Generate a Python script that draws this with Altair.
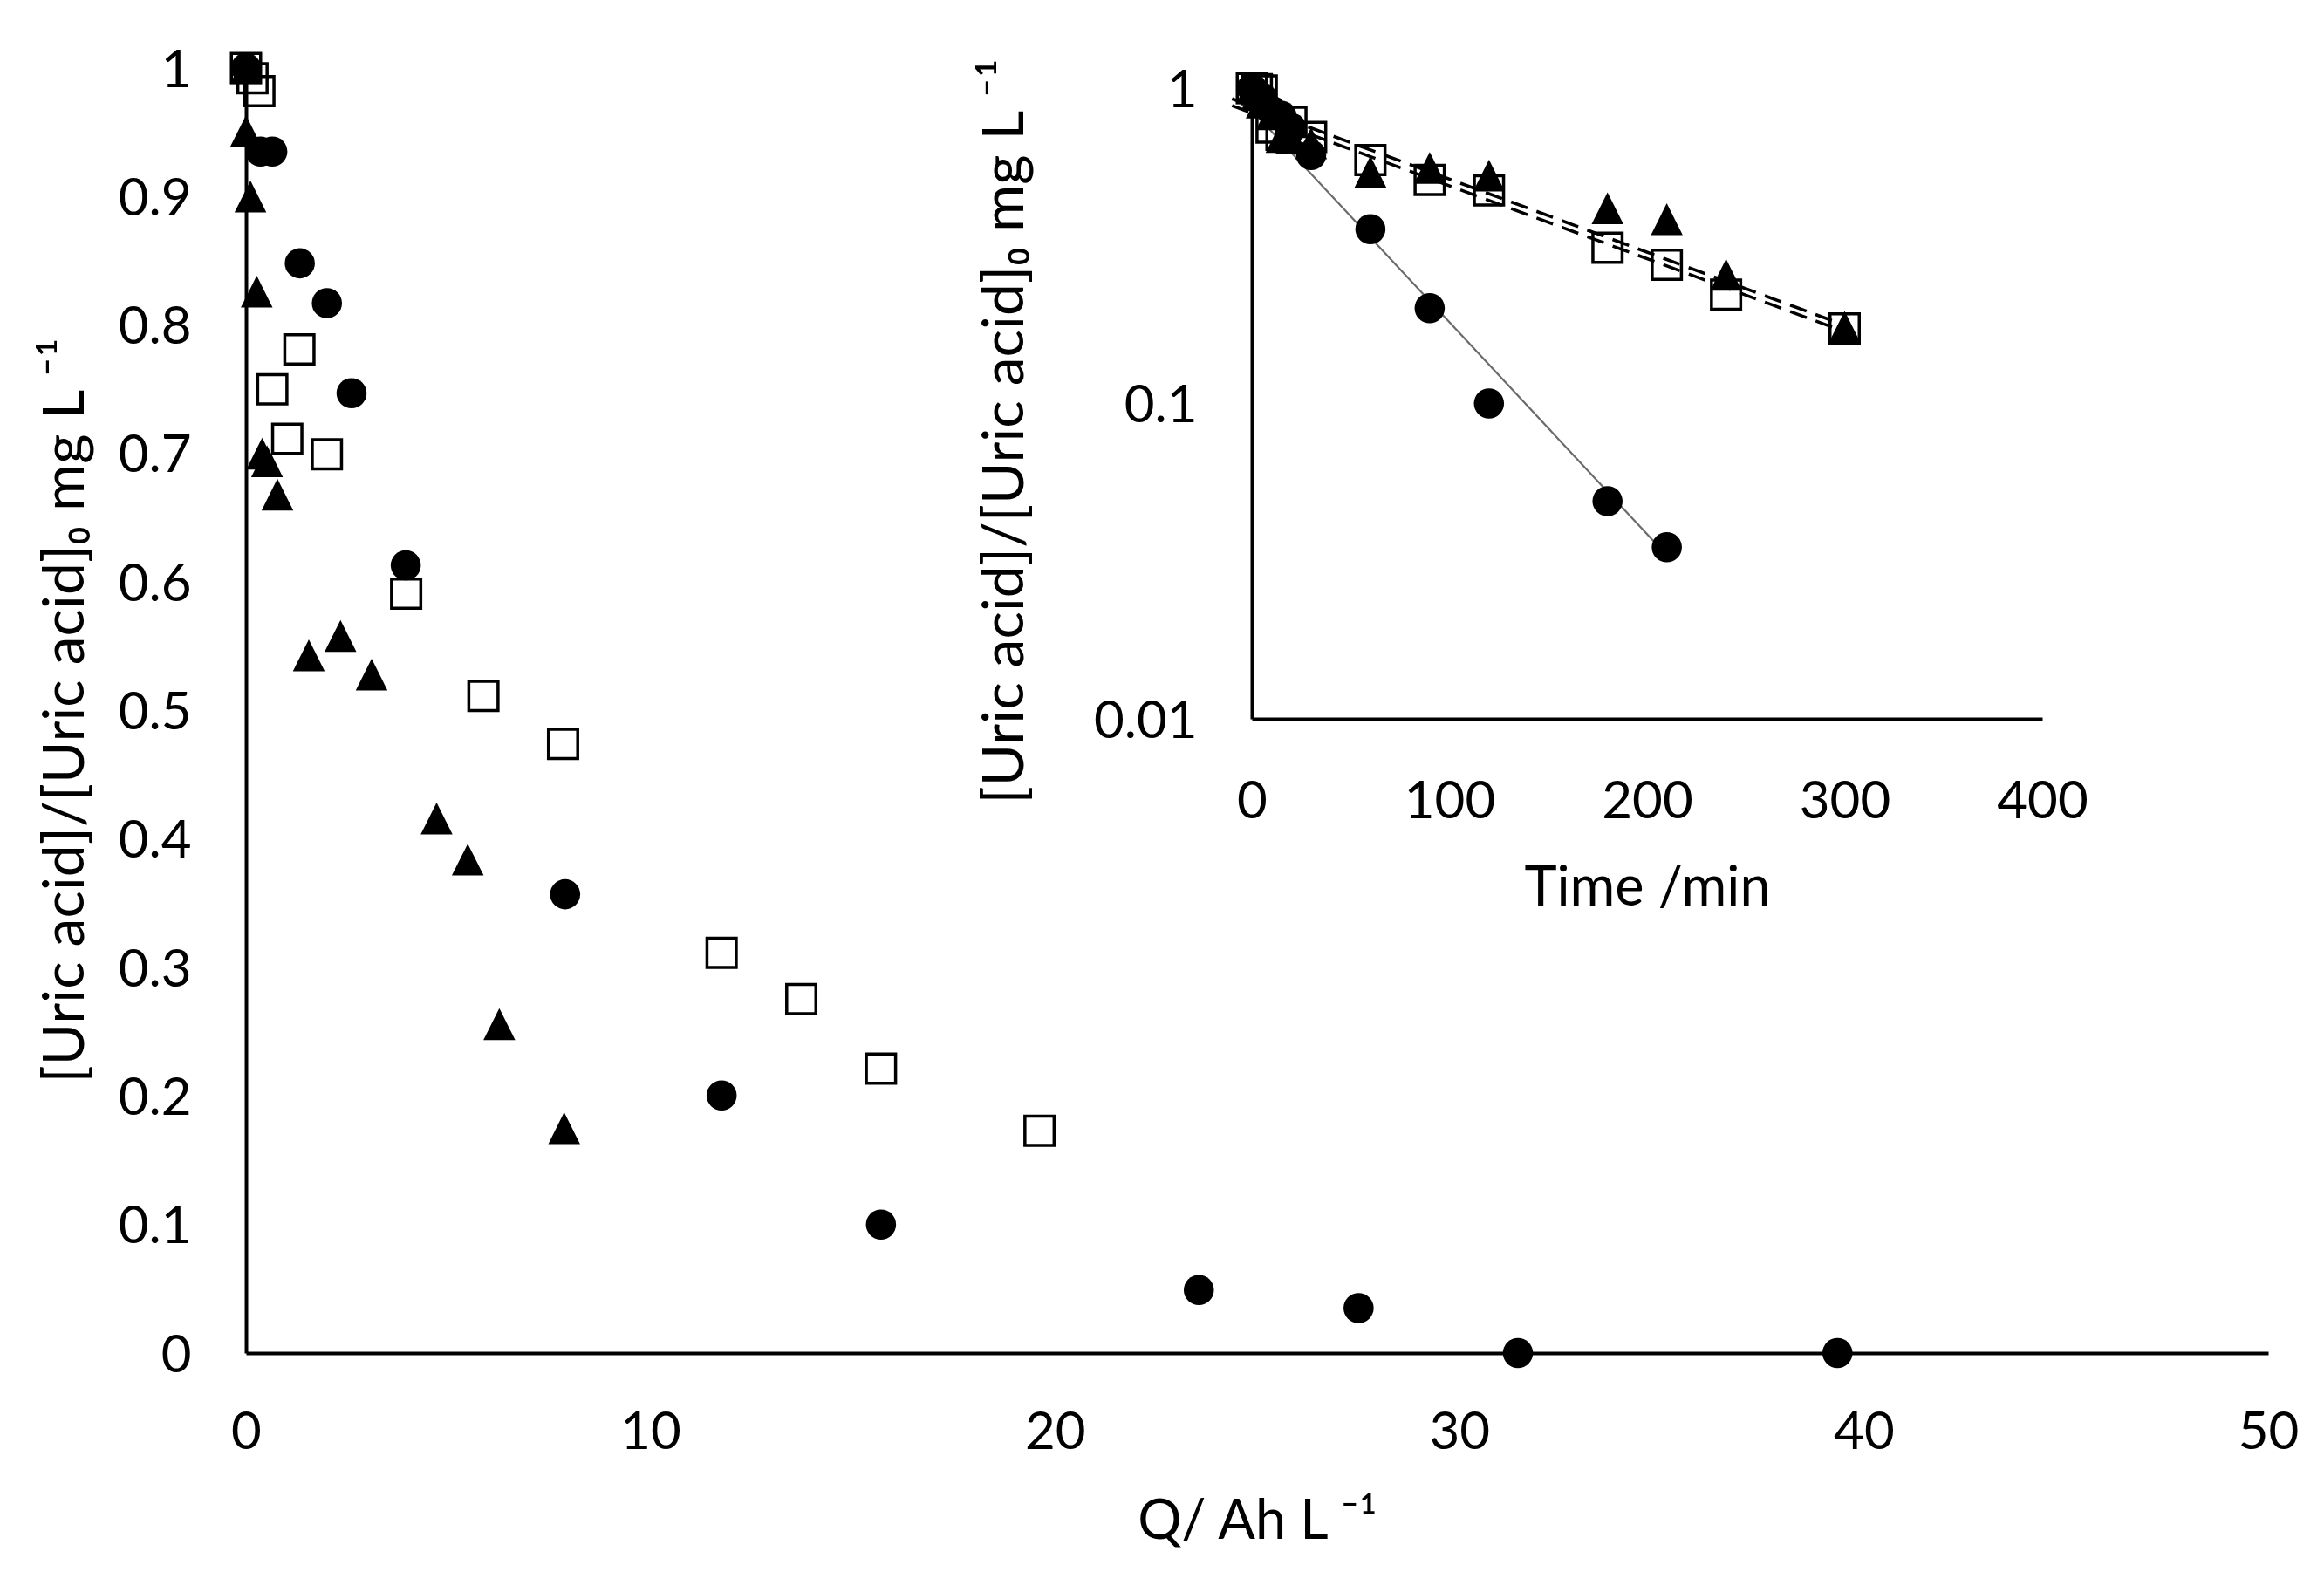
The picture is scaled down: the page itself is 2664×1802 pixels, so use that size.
import altair as alt
import pandas as pd

# ---------------- data ----------------
# time (min), charge Q (Ah/L) and normalised concentration for each series
circle_time = [0, 2.5, 5, 10, 15, 20, 30, 60, 90, 120, 180, 210, 240, 300]
circle_q = [0, 0.36, 0.65, 1.33, 2.0, 2.61, 3.95, 7.89, 11.76, 15.7, 23.56, 27.51, 31.45, 39.35]
circle_ratio = [1.0, 0.935, 0.935, 0.848, 0.817, 0.747, 0.613, 0.357, 0.2005, 0.100, 0.049, 0.035, 0.0, 0.0]

square_time = [0, 2.5, 5, 10, 15, 20, 30, 60, 90, 120, 180, 210, 240, 300]
square_q = [0, 0.16, 0.33, 0.65, 1.02, 1.32, 2.0, 3.96, 5.87, 7.84, 11.76, 13.73, 15.70, 19.62]
square_ratio = [1.0, 0.992, 0.982, 0.750, 0.7115, 0.781, 0.6995, 0.591, 0.5114, 0.474, 0.3115, 0.2755, 0.2213, 0.173]

triangle_time = [0, 2.5, 5, 10, 15, 20, 30, 60, 90, 120, 180, 210, 240, 300]
triangle_q = [0, 0.0, 0.11, 0.265, 0.40, 0.52, 0.777, 1.553, 2.336, 3.106, 4.713, 5.483, 6.264, 7.867]
triangle_ratio = [1.0, 0.951, 0.900, 0.826, 0.700, 0.694, 0.668, 0.543, 0.558, 0.528, 0.416, 0.384, 0.256, 0.175]

# trend lines of the inset (end points)
circle_fit_time = [0, 210]
circle_fit_ratio = [0.85, 0.033]
square_fit_time = [-10, 300]
square_fit_ratio = [0.88, 0.169]
triangle_fit_time = [-10, 300]
triangle_fit_ratio = [0.925, 0.177]

# axis ticks
main_x_ticks = [0, 10, 20, 30, 40, 50]
main_y_ticks = [0, 0.1, 0.2, 0.3, 0.4, 0.5, 0.6, 0.7, 0.8, 0.9, 1]
inset_x_ticks = [0, 100, 200, 300, 400]
inset_y_ticks = [0.01, 0.1, 1]

y_title = "[Uric acid]/[Uric acid]\u2080  mg L \u207b\u00b9"
x_title = "Q/ Ah L \u207b\u00b9"
inset_x_title = "Time /min"

# ---------------- tables ----------------
def series(t, q, r):
    return pd.DataFrame({"time": t, "Q": q, "ratio": r})

circles = series(circle_time, circle_q, circle_ratio)
squares = series(square_time, square_q, square_ratio)
triangles = series(triangle_time, triangle_q, triangle_ratio)
circle_fit = pd.DataFrame({"time": circle_fit_time, "ratio": circle_fit_ratio})
square_fit = pd.DataFrame({"time": square_fit_time, "ratio": square_fit_ratio})
triangle_fit = pd.DataFrame({"time": triangle_fit_time, "ratio": triangle_fit_ratio})

# ---------------- layout ----------------
W, H = 2318, 1473
FONT = "Lato"
TRI = "M0,-1L1,1L-1,1Z"

inset_x_range = [1153, 2059]
inset_y_range = [746, 23]

common_axis = dict(ticks=False, tickSize=0, grid=False, domainColor="black", domainWidth=4,
                   labelFont=FONT, labelFontSize=60, labelColor="black", labelFlush=False,
                   labelOverlap=False, titleFont=FONT,
                   titleFontWeight="normal", titleColor="black")

xm = alt.X("Q:Q", scale=alt.Scale(domain=[0, 50], nice=False, zero=False),
           axis=alt.Axis(values=main_x_ticks, format="d", labelPadding=62, title=x_title,
                         titleFontSize=63, titleX=1159, titleY=212, titleAlign="center",
                         titleBaseline="alphabetic", **common_axis))
ym = alt.Y("ratio:Q", scale=alt.Scale(domain=[0, 1], nice=False, zero=False),
           axis=alt.Axis(values=main_y_ticks, format="~g", labelPadding=63, labelOffset=3,
                         title=y_title, titleFontSize=66, titleAngle=270, titleX=-187, titleY=736,
                         titleAlign="center", titleBaseline="alphabetic", **common_axis))

xi = alt.X("time:Q", scale=alt.Scale(domain=[0, 400], range=inset_x_range, nice=False, zero=False),
           axis=alt.Axis(orient="bottom", offset=-(H - inset_y_range[0]), values=inset_x_ticks,
                         format="d", labelPadding=66, title=inset_x_title, titleFontSize=63,
                         titleX=(inset_x_range[0] + inset_x_range[1]) / 2, titleY=213,
                         titleAlign="center", titleBaseline="alphabetic", **common_axis))
yi = alt.Y("ratio:Q", scale=alt.Scale(type="log", domain=[0.01, 1], range=inset_y_range, nice=False),
           axis=alt.Axis(orient="left", offset=-inset_x_range[0], values=inset_y_ticks,
                         format="~g", labelPadding=63, labelOffset=3, title=y_title,
                         titleFontSize=66, titleAngle=270, titleX=-263, titleY=416,
                         titleAlign="center", titleBaseline="alphabetic", **common_axis))

CIRCLE_SIZE = 1195
SQUARE_SIZE = 1122
TRI_SIZE = 1330

def sq_mark():
    return alt.Chart(squares).mark_point(shape="square", filled=False, size=SQUARE_SIZE,
                                         stroke="black", strokeWidth=3.5, opacity=1)

def tri_mark():
    return alt.Chart(triangles).mark_point(shape=TRI, filled=True, size=TRI_SIZE,
                                           color="black", opacity=1)

def circ_mark():
    return alt.Chart(circles).mark_point(shape="circle", filled=True, size=CIRCLE_SIZE,
                                         color="black", opacity=1)

main = alt.layer(
    sq_mark().encode(x=xm, y=ym),
    tri_mark().encode(x=xm, y=ym),
    circ_mark().encode(x=xm, y=ym),
)

inset = alt.layer(
    alt.Chart(circle_fit).mark_line(color="#6b6b6b", strokeWidth=2.2).encode(x=xi, y=yi),
    alt.Chart(square_fit).mark_line(color="black", strokeWidth=3.5, strokeDash=[20, 11]).encode(x=xi, y=yi),
    alt.Chart(triangle_fit).mark_line(color="black", strokeWidth=3.5, strokeDash=[20, 11]).encode(x=xi, y=yi),
    sq_mark().transform_filter("datum.ratio > 0").encode(x=xi, y=yi),
    tri_mark().transform_filter("datum.ratio > 0").encode(x=xi, y=yi),
    circ_mark().transform_filter("datum.ratio > 0").encode(x=xi, y=yi),
)

chart = (
    alt.layer(main, inset)
    .resolve_scale(x="independent", y="independent")
    .properties(width=W, height=H, autosize=alt.AutoSizeParams(type="none"),
                padding={"left": 274, "top": 70, "right": 56, "bottom": 238},
                background="white")
    .configure_view(stroke=None)
)

chart.save("out.html", embed_options={"renderer": "svg", "actions": False})
